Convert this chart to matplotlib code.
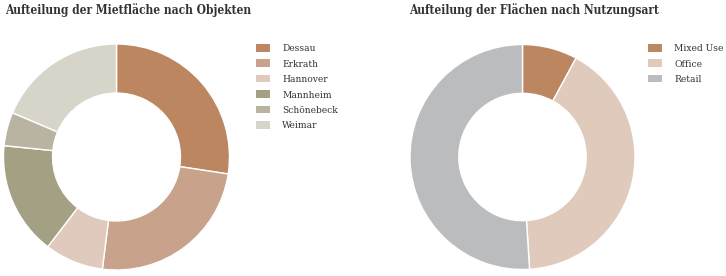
import matplotlib
matplotlib.use("Agg")
import matplotlib.pyplot as plt
from matplotlib.patches import Patch

# Mietfläche nach Objekten (%)
objects = ["Dessau", "Erkrath", "Hannover", "Mannheim", "Schönebeck", "Weimar"]
object_share = [27.4, 24.6, 8.4, 16.2, 4.8, 18.6]
object_colors = ["#bc8760", "#c8a28a", "#e0cabd", "#a3a083", "#b9b4a2", "#d7d5c9"]

# Flächen nach Nutzungsart (%)
usage = ["Mixed Use", "Office", "Retail"]
usage_share = [7.9, 41.1, 51.0]
usage_colors = ["#bc8760", "#e0cabc", "#bbbcbe"]

W, H = 726, 276
fig = plt.figure(figsize=(W / 100, H / 100), dpi=100)
plt.rcParams["font.family"] = ["DejaVu Serif"]
plt.rcParams["font.stretch"] = "condensed"

def donut(cx, cy, r, vals, cols):
    ax = fig.add_axes([(cx - r) / W, (H - cy - r) / H, 2 * r / W, 2 * r / H])
    ax.pie(vals, colors=cols, startangle=90, counterclock=False, radius=1,
           wedgeprops=dict(width=0.434, edgecolor="white", linewidth=1))
    ax.set_xlim(-1, 1)
    ax.set_ylim(-1, 1)
    ax.set_aspect("equal")
    ax.axis("off")
    return ax

def legend(labels, cols, x, y):
    handles = [Patch(facecolor=c, edgecolor="none") for c in cols]
    fig.legend(handles, labels, loc="upper left", bbox_to_anchor=(x / W, 1 - y / H),
               frameon=False, fontsize=7.3, handlelength=1.4, handleheight=0.78,
               labelspacing=0.6, handletextpad=1.2, borderpad=0, borderaxespad=0,
               labelcolor="#333333")

donut(116.5, 157, 113, object_share, object_colors)
donut(522.5, 157, 112.5, usage_share, usage_colors)

legend(objects, object_colors, 256, 44)
legend(usage, usage_colors, 648, 44)

fig.text(5 / W, 1 - 3 / H, "Aufteilung der Mietfläche nach Objekten", ha="left", va="top",
         fontsize=8.6, fontweight="bold", color="#333333")
fig.text(409 / W, 1 - 3 / H, "Aufteilung der Flächen nach Nutzungsart", ha="left", va="top",
         fontsize=8.6, fontweight="bold", color="#333333")

fig.savefig("out.png", dpi=100)
